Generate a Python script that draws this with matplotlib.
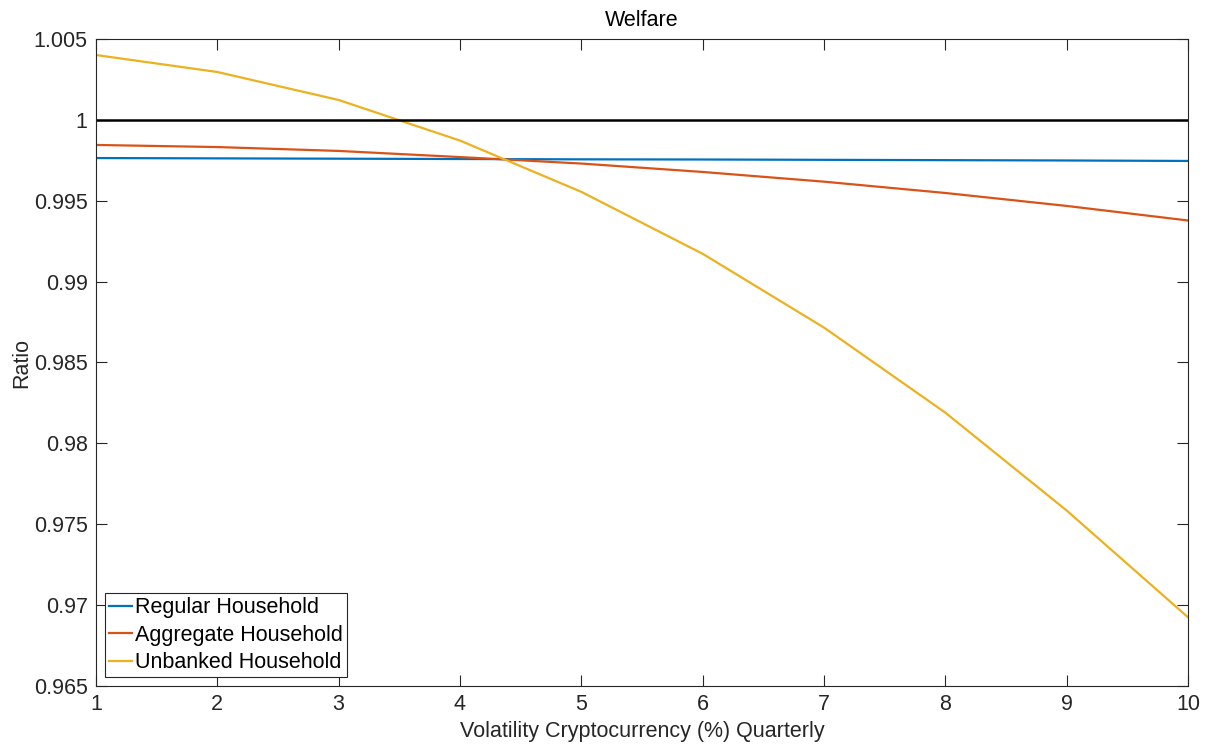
import numpy as np
import matplotlib.pyplot as plt

plt.rcParams['font.family'] = ['Liberation Sans', 'DejaVu Sans']

vol = [1, 2, 3, 4, 5, 6, 7, 8, 9, 10]
regular = [0.99764, 0.99762, 0.99760, 0.99758, 0.99756, 0.99755, 0.99753, 0.99751, 0.99749, 0.99746]
aggregate = [0.99845, 0.99832, 0.99808, 0.99770, 0.99730, 0.99678, 0.99618, 0.99548, 0.99468, 0.99378]
unbanked = [1.00401, 1.00296, 1.00123, 0.99872, 0.99555, 0.99172, 0.98716, 0.98190, 0.97585, 0.96925]
baseline = [1.0] * len(vol)

fig = plt.figure(figsize=(12.07, 7.45), dpi=100)
ax = fig.add_axes([96/1207, 1 - 686/745, (1188-96)/1207, (686-39)/745])

ax.plot(vol, regular, color='#0072BD', lw=1.6, label='Regular Household')
ax.plot(vol, aggregate, color='#D95319', lw=1.6, label='Aggregate Household')
ax.plot(vol, unbanked, color='#EDB120', lw=1.6, label='Unbanked Household')
ax.plot(vol, baseline, color='black', lw=1.8)

ax.set_xlim(1, 10)
ax.set_ylim(0.965, 1.005)
ax.set_xticks(vol)
yt = [0.965, 0.97, 0.975, 0.98, 0.985, 0.99, 0.995, 1.0, 1.005]
ax.set_yticks(yt)
ax.set_yticklabels(['0.965', '0.97', '0.975', '0.98', '0.985', '0.99', '0.995', '1', '1.005'])
ax.tick_params(direction='in', top=True, right=True, labelsize=15.5, colors='#262626',
               length=8, pad=6)
for s in ax.spines.values():
    s.set_color('#262626')
    s.set_linewidth(0.8)

ax.set_xlabel('Volatility Cryptocurrency (%) Quarterly', fontsize=15.5, color='#262626', labelpad=4)
ax.set_ylabel('Ratio', fontsize=15.5, color='#262626', labelpad=1)
ax.set_title('Welfare', fontsize=15.5, pad=9)

leg = ax.legend(loc='lower left', fontsize=15.5, handlelength=1.05, handletextpad=0.15,
                borderaxespad=0.4, borderpad=0.2, labelspacing=0.3, fancybox=False,
                edgecolor='#262626', framealpha=1)
leg.get_frame().set_linewidth(0.8)

plt.savefig('out.png', dpi=100)
